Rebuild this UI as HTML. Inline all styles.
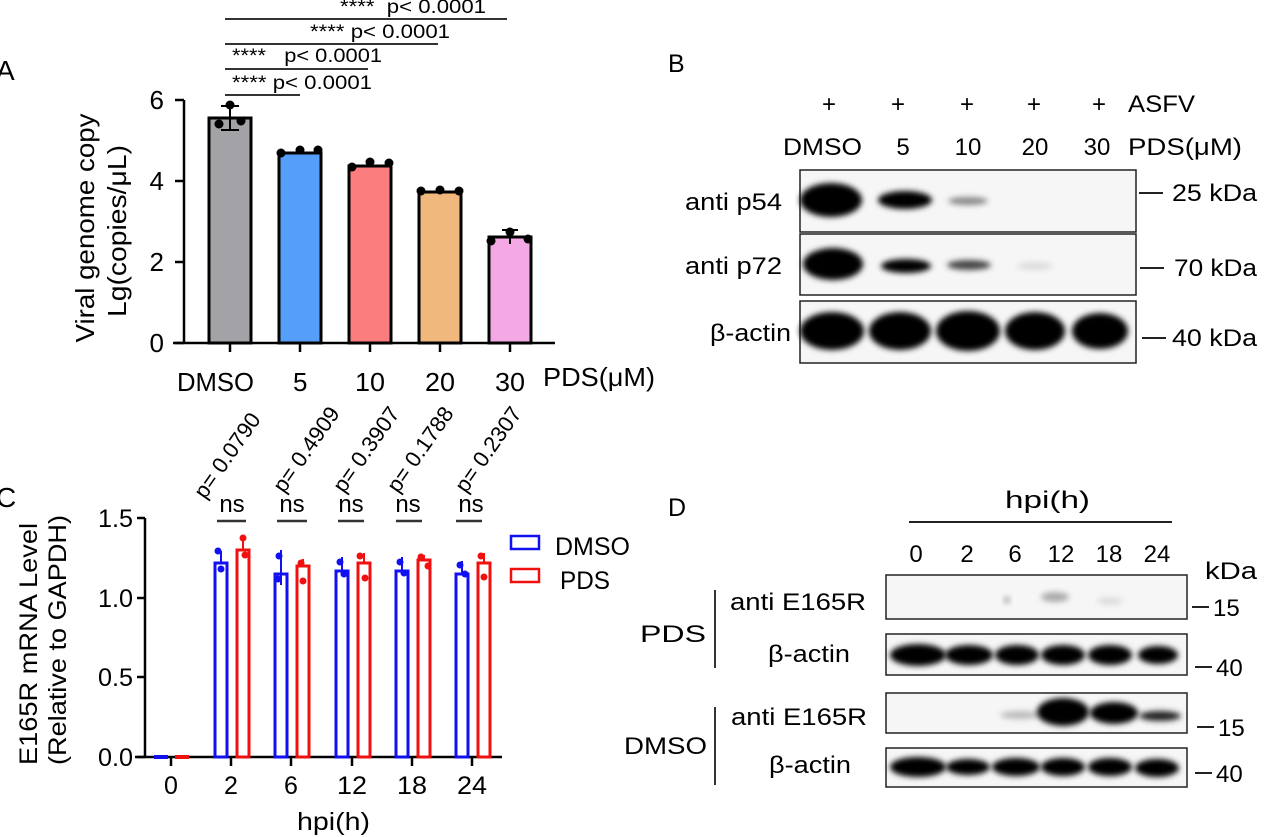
<!DOCTYPE html>
<html><head><meta charset="utf-8"><style>
html,body{margin:0;padding:0;background:#fff;}
svg{display:block;font-family:"Liberation Sans",Arial,sans-serif;}
</style></head><body>
<svg width="1265" height="837" viewBox="0 0 1265 837" xmlns="http://www.w3.org/2000/svg">
<defs>
<filter id="b" x="-50%" y="-100%" width="200%" height="300%"><feGaussianBlur stdDeviation="3"/></filter>
</defs>
<!-- Panel A -->
<text x="-4" y="80" font-size="28">A</text>
<g stroke="#000" stroke-width="2.5" fill="none">
<line x1="184" y1="100" x2="184" y2="344"/>
<line x1="173" y1="343" x2="555" y2="343"/>
<line x1="175" y1="100" x2="184" y2="100"/><line x1="175" y1="181" x2="184" y2="181"/><line x1="175" y1="262" x2="184" y2="262"/><line x1="175" y1="343" x2="184" y2="343"/>
<line x1="230" y1="343" x2="230" y2="352"/><line x1="300" y1="343" x2="300" y2="352"/><line x1="370" y1="343" x2="370" y2="352"/><line x1="440" y1="343" x2="440" y2="352"/><line x1="510" y1="343" x2="510" y2="352"/>
</g>
<g stroke="#000" stroke-width="3">
<rect x="209" y="118" width="42" height="225" fill="#a3a3a7"/>
<rect x="279" y="153" width="42" height="190" fill="#559ffb"/>
<rect x="349" y="166" width="42" height="177" fill="#fb7d7d"/>
<rect x="419" y="192" width="42" height="151" fill="#f0b87c"/>
<rect x="489" y="237" width="42" height="106" fill="#f4a8e4"/>
</g>
<g stroke="#000" stroke-width="2">
<line x1="230" y1="106" x2="230" y2="130"/><line x1="221" y1="106" x2="239" y2="106"/><line x1="221" y1="130" x2="239" y2="130"/>
<line x1="510" y1="230" x2="510" y2="244"/><line x1="502" y1="230" x2="518" y2="230"/>
</g>
<g fill="#000">
<circle cx="230" cy="105" r="4.5"/><circle cx="219" cy="124" r="4.5"/><circle cx="241" cy="121" r="4.5"/>
<circle cx="281" cy="153" r="4.5"/><circle cx="300" cy="150" r="4.5"/><circle cx="318" cy="150" r="4.5"/>
<circle cx="352" cy="167" r="4.5"/><circle cx="370" cy="162" r="4.5"/><circle cx="389" cy="163" r="4.5"/>
<circle cx="421" cy="191" r="4.5"/><circle cx="440" cy="190" r="4.5"/><circle cx="459" cy="191" r="4.5"/>
<circle cx="491" cy="241" r="4.5"/><circle cx="510" cy="232" r="4.5"/><circle cx="528" cy="239" r="4.5"/>
</g>
<g font-size="26" text-anchor="end">
<text x="164" y="109">6</text><text x="164" y="190">4</text><text x="164" y="271">2</text><text x="164" y="352">0</text>
</g>
<g font-size="26">
<text x="177" y="391" textLength="77" lengthAdjust="spacingAndGlyphs">DMSO</text>
<text x="293" y="391">5</text><text x="355" y="391" textLength="30" lengthAdjust="spacingAndGlyphs">10</text><text x="425" y="391" textLength="30" lengthAdjust="spacingAndGlyphs">20</text><text x="495" y="391" textLength="30" lengthAdjust="spacingAndGlyphs">30</text>
<text x="543" y="386" textLength="112" lengthAdjust="spacingAndGlyphs">PDS(μM)</text>
</g>
<text transform="translate(94,228) rotate(-90)" font-size="26" text-anchor="middle" textLength="229" lengthAdjust="spacingAndGlyphs">Viral genome copy</text>
<text transform="translate(126,231) rotate(-90)" font-size="26" text-anchor="middle" textLength="172" lengthAdjust="spacingAndGlyphs">Lg(copies/μL)</text>
<g stroke="#333" stroke-width="2">
<line x1="225" y1="95" x2="300" y2="95"/><line x1="225" y1="69" x2="368" y2="69"/><line x1="225" y1="44" x2="438" y2="44"/><line x1="225" y1="19" x2="507" y2="19"/>
</g>
<g font-size="19">
<text x="232" y="89" textLength="140" lengthAdjust="spacingAndGlyphs">**** p&lt; 0.0001</text>
<text x="232" y="62" textLength="150" lengthAdjust="spacingAndGlyphs">****&#160;&#160; p&lt; 0.0001</text>
<text x="310" y="38" textLength="140" lengthAdjust="spacingAndGlyphs">**** p&lt; 0.0001</text>
<text x="340" y="13" textLength="146" lengthAdjust="spacingAndGlyphs">****&#160; p&lt; 0.0001</text>
</g>
<!-- Panel B -->
<text x="668" y="72" font-size="25">B</text>
<g font-size="24" text-anchor="middle">
<text x="829" y="112">+</text><text x="898" y="112">+</text><text x="967" y="112">+</text><text x="1034" y="112">+</text><text x="1099" y="112">+</text>
<text x="903" y="155">5</text><text x="968" y="155">10</text><text x="1035" y="155">20</text><text x="1097" y="155">30</text>
</g>
<g font-size="24">
<text x="783" y="155" textLength="79" lengthAdjust="spacingAndGlyphs">DMSO</text>
<text x="1128" y="112" textLength="67" lengthAdjust="spacingAndGlyphs">ASFV</text>
<text x="1128" y="155" textLength="114" lengthAdjust="spacingAndGlyphs">PDS(μM)</text>
</g>
<g stroke="#222" stroke-width="1.5" fill="#f6f6f6">
<rect x="800" y="170" width="336" height="62"/>
<rect x="800" y="234" width="336" height="61"/>
<rect x="800" y="301" width="336" height="62"/>
</g>
<g fill="#000">
<ellipse cx="831" cy="200" rx="31" ry="17" filter="url(#b)"/>
<ellipse cx="905" cy="200" rx="27" ry="9" filter="url(#b)"/>
<ellipse cx="968" cy="201" rx="20" ry="4" fill="#888" filter="url(#b)"/>
<ellipse cx="833" cy="264" rx="30" ry="16" filter="url(#b)"/>
<ellipse cx="906" cy="266" rx="25" ry="7" filter="url(#b)"/>
<ellipse cx="969" cy="265" rx="22" ry="5" fill="#444" filter="url(#b)"/>
<ellipse cx="1035" cy="266" rx="18" ry="4" fill="#ddd" filter="url(#b)"/>
<ellipse cx="832" cy="331" rx="32" ry="19" filter="url(#b)"/>
<ellipse cx="900" cy="331" rx="31" ry="19" filter="url(#b)"/>
<ellipse cx="968" cy="331" rx="32" ry="20" filter="url(#b)"/>
<ellipse cx="1035" cy="331" rx="30" ry="19" filter="url(#b)"/>
<ellipse cx="1100" cy="331" rx="28" ry="18" filter="url(#b)"/>
</g>
<g font-size="24">
<text x="685" y="210" textLength="97" lengthAdjust="spacingAndGlyphs">anti p54</text>
<text x="685" y="274" textLength="97" lengthAdjust="spacingAndGlyphs">anti p72</text>
<text x="710" y="341" textLength="81" lengthAdjust="spacingAndGlyphs">β-actin</text>
</g>
<g stroke="#222" stroke-width="2"><line x1="1139" y1="193" x2="1163" y2="193"/><line x1="1140" y1="268" x2="1164" y2="268"/><line x1="1142" y1="338" x2="1166" y2="338"/></g>
<g font-size="24">
<text x="1172" y="201" textLength="85" lengthAdjust="spacingAndGlyphs">25 kDa</text>
<text x="1174" y="276" textLength="83" lengthAdjust="spacingAndGlyphs">70 kDa</text>
<text x="1172" y="346" textLength="85" lengthAdjust="spacingAndGlyphs">40 kDa</text>
</g>
<!-- Panel C -->
<text x="-4" y="507" font-size="28">C</text>
<g stroke="#000" stroke-width="2.5" fill="none">
<line x1="145" y1="518" x2="145" y2="758"/>
<line x1="135" y1="757" x2="502" y2="757"/>
<line x1="137" y1="518" x2="145" y2="518"/><line x1="137" y1="598" x2="145" y2="598"/><line x1="137" y1="677" x2="145" y2="677"/><line x1="137" y1="757" x2="145" y2="757"/>
<line x1="171" y1="757" x2="171" y2="766"/><line x1="231" y1="757" x2="231" y2="766"/><line x1="291" y1="757" x2="291" y2="766"/><line x1="352" y1="757" x2="352" y2="766"/><line x1="412" y1="757" x2="412" y2="766"/><line x1="472" y1="757" x2="472" y2="766"/>
</g>
<g stroke-width="3" fill="none">
<g stroke="#1010f0">
<rect x="215" y="563" width="12" height="194"/><rect x="275" y="574" width="12" height="183"/><rect x="336" y="571" width="12" height="186"/><rect x="396" y="571" width="12" height="186"/><rect x="456" y="574" width="12" height="183"/>
<line x1="154" y1="757" x2="168" y2="757" stroke-width="4"/>
</g>
<g stroke="#f01010">
<rect x="237" y="550" width="12" height="207"/><rect x="297" y="566" width="12" height="191"/><rect x="358" y="563" width="12" height="194"/><rect x="418" y="560" width="12" height="197"/><rect x="478" y="563" width="12" height="194"/>
<line x1="175" y1="757" x2="189" y2="757" stroke-width="4"/>
</g>
</g>
<g stroke-width="2">
<g stroke="#1010f0"><line x1="221" y1="551" x2="221" y2="563"/><line x1="281" y1="550" x2="281" y2="585"/><line x1="342" y1="557" x2="342" y2="571"/><line x1="402" y1="557" x2="402" y2="571"/><line x1="462" y1="561" x2="462" y2="574"/></g>
<g stroke="#f01010"><line x1="243" y1="538" x2="243" y2="550"/><line x1="303" y1="559" x2="303" y2="566"/><line x1="364" y1="553" x2="364" y2="563"/><line x1="424" y1="555" x2="424" y2="560"/><line x1="484" y1="553" x2="484" y2="563"/></g>
</g>
<g fill="#1010f0"><circle cx="218" cy="551" r="3.5"/><circle cx="221" cy="569" r="3.5"/><circle cx="279" cy="556" r="3.5"/><circle cx="278" cy="579" r="3.5"/><circle cx="340" cy="562" r="3.5"/><circle cx="344" cy="574" r="3.5"/><circle cx="400" cy="562" r="3.5"/><circle cx="404" cy="573" r="3.5"/><circle cx="460" cy="565" r="3.5"/><circle cx="465" cy="574" r="3.5"/></g>
<g fill="#f01010"><circle cx="243" cy="538" r="3.5"/><circle cx="245" cy="555" r="3.5"/><circle cx="301" cy="563" r="3.5"/><circle cx="303" cy="581" r="3.5"/><circle cx="360" cy="556" r="3.5"/><circle cx="365" cy="578" r="3.5"/><circle cx="421" cy="557" r="3.5"/><circle cx="428" cy="566" r="3.5"/><circle cx="481" cy="556" r="3.5"/><circle cx="484" cy="577" r="3.5"/></g>
<g font-size="25" text-anchor="end">
<text x="133" y="527" textLength="35" lengthAdjust="spacingAndGlyphs">1.5</text><text x="133" y="607" textLength="35" lengthAdjust="spacingAndGlyphs">1.0</text><text x="133" y="686" textLength="35" lengthAdjust="spacingAndGlyphs">0.5</text><text x="133" y="766" textLength="35" lengthAdjust="spacingAndGlyphs">0.0</text>
</g>
<g font-size="25" text-anchor="middle">
<text x="171" y="794">0</text><text x="231" y="794">2</text><text x="291" y="794">6</text><text x="352" y="794" textLength="30" lengthAdjust="spacingAndGlyphs">12</text><text x="412" y="794" textLength="30" lengthAdjust="spacingAndGlyphs">18</text><text x="472" y="794" textLength="30" lengthAdjust="spacingAndGlyphs">24</text>
</g>
<text x="297" y="830" font-size="25" textLength="73" lengthAdjust="spacingAndGlyphs">hpi(h)</text>
<text transform="translate(37,644) rotate(-90)" font-size="25" text-anchor="middle" textLength="242" lengthAdjust="spacingAndGlyphs">E165R mRNA Level</text>
<text transform="translate(66,640) rotate(-90)" font-size="25" text-anchor="middle" textLength="250" lengthAdjust="spacingAndGlyphs">(Relative to GAPDH)</text>
<g stroke="#333" stroke-width="2.5"><line x1="217" y1="521" x2="246" y2="521"/><line x1="277" y1="521" x2="307" y2="521"/><line x1="338" y1="521" x2="364" y2="521"/><line x1="396" y1="521" x2="422" y2="521"/><line x1="456" y1="521" x2="482" y2="521"/></g>
<g font-size="24" text-anchor="middle">
<text x="232" y="512">ns</text><text x="292" y="512">ns</text><text x="351" y="512">ns</text><text x="408" y="512">ns</text><text x="471" y="512">ns</text>
</g>
<g font-size="22">
<text transform="translate(205,500) rotate(-55)">p= 0.0790</text>
<text transform="translate(284,494) rotate(-55)">p= 0.4909</text>
<text transform="translate(344,494) rotate(-55)">p= 0.3907</text>
<text transform="translate(398,494) rotate(-55)">p= 0.1788</text>
<text transform="translate(466,494) rotate(-55)">p= 0.2307</text>
</g>
<rect x="511" y="536" width="28" height="13" fill="none" stroke="#1010f0" stroke-width="2.5"/>
<rect x="511" y="569" width="28" height="13" fill="none" stroke="#f01010" stroke-width="2.5"/>
<text x="555" y="555" font-size="25" textLength="75" lengthAdjust="spacingAndGlyphs">DMSO</text>
<text x="560" y="589" font-size="25" textLength="50" lengthAdjust="spacingAndGlyphs">PDS</text>
<!-- Panel D -->
<text x="668" y="516" font-size="25">D</text>
<text x="1005" y="508" font-size="24" textLength="85" lengthAdjust="spacingAndGlyphs">hpi(h)</text>
<line x1="909" y1="522" x2="1172" y2="522" stroke="#222" stroke-width="2"/>
<g font-size="24" text-anchor="middle">
<text x="916" y="562">0</text><text x="967" y="562">2</text><text x="1015" y="562">6</text><text x="1061" y="562">12</text><text x="1109" y="562">18</text><text x="1157" y="562">24</text>
</g>
<text x="1205" y="579" font-size="24" textLength="52" lengthAdjust="spacingAndGlyphs">kDa</text>
<g stroke="#222" stroke-width="1.5" fill="#f6f6f6">
<rect x="886" y="575" width="301" height="44"/>
<rect x="886" y="634" width="301" height="41"/>
<rect x="886" y="693" width="301" height="40"/>
<rect x="886" y="748" width="301" height="39"/>
</g>
<g fill="#000">
<ellipse cx="1007" cy="600" rx="3" ry="3" fill="#999" filter="url(#b)"/>
<ellipse cx="1055" cy="597" rx="14" ry="5" fill="#aaa" filter="url(#b)"/>
<ellipse cx="1110" cy="601" rx="13" ry="4" fill="#ddd" filter="url(#b)"/>
<ellipse cx="918" cy="655" rx="28" ry="11" filter="url(#b)"/>
<ellipse cx="969" cy="655" rx="24" ry="10" filter="url(#b)"/>
<ellipse cx="1017" cy="655" rx="22" ry="10" filter="url(#b)"/>
<ellipse cx="1063" cy="655" rx="22" ry="10" filter="url(#b)"/>
<ellipse cx="1110" cy="655" rx="22" ry="10" filter="url(#b)"/>
<ellipse cx="1158" cy="655" rx="20" ry="9" filter="url(#b)"/>
<ellipse cx="1020" cy="715" rx="20" ry="4" fill="#bbb" filter="url(#b)"/>
<ellipse cx="1063" cy="712" rx="26" ry="14" filter="url(#b)"/>
<ellipse cx="1114" cy="713" rx="24" ry="11" filter="url(#b)"/>
<ellipse cx="1160" cy="716" rx="21" ry="5" fill="#222" filter="url(#b)"/>
<ellipse cx="918" cy="767" rx="28" ry="10" filter="url(#b)"/>
<ellipse cx="968" cy="767" rx="22" ry="8" filter="url(#b)"/>
<ellipse cx="1016" cy="767" rx="24" ry="9" filter="url(#b)"/>
<ellipse cx="1063" cy="767" rx="22" ry="9" filter="url(#b)"/>
<ellipse cx="1110" cy="767" rx="22" ry="9" filter="url(#b)"/>
<ellipse cx="1157" cy="768" rx="22" ry="9" filter="url(#b)"/>
</g>
<g font-size="24">
<text x="730" y="610" textLength="136" lengthAdjust="spacingAndGlyphs">anti E165R</text>
<text x="768" y="662" textLength="82" lengthAdjust="spacingAndGlyphs">β-actin</text>
<text x="731" y="725" textLength="136" lengthAdjust="spacingAndGlyphs">anti E165R</text>
<text x="769" y="773" textLength="82" lengthAdjust="spacingAndGlyphs">β-actin</text>
<text x="640" y="642" textLength="66" lengthAdjust="spacingAndGlyphs">PDS</text>
<text x="624" y="754" textLength="83" lengthAdjust="spacingAndGlyphs">DMSO</text>
</g>
<g stroke="#333" stroke-width="2"><line x1="715" y1="590" x2="715" y2="668"/><line x1="715" y1="707" x2="715" y2="785"/></g>
<g stroke="#222" stroke-width="2"><line x1="1192" y1="607" x2="1209" y2="607"/><line x1="1195" y1="667" x2="1212" y2="667"/><line x1="1197" y1="727" x2="1214" y2="727"/><line x1="1195" y1="773" x2="1212" y2="773"/></g>
<g font-size="24"><text x="1213" y="616">15</text><text x="1216" y="676">40</text><text x="1218" y="736">15</text><text x="1216" y="782">40</text></g>
</svg>
</body></html>
